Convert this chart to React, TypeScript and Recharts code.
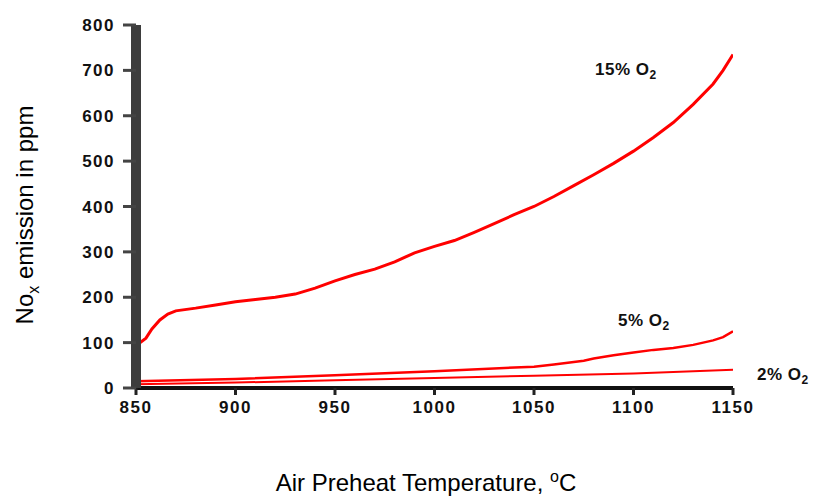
import { LineChart, Line, XAxis, YAxis } from 'recharts';

const xTicks = [850, 900, 950, 1000, 1050, 1100, 1150];
const yTicks = [0, 100, 200, 300, 400, 500, 600, 700, 800];

const o2_15 = [
    [850, 95], [852, 100], [855, 110], [858, 130], [862, 150], [866, 163], [870, 170],
    [880, 176], [890, 183], [900, 190], [910, 195], [920, 200], [930, 207], [940, 220],
    [950, 236], [960, 250], [970, 262], [980, 278], [990, 298], [1000, 312], [1010, 325],
    [1020, 343], [1030, 362], [1040, 382], [1050, 400], [1060, 422], [1070, 446],
    [1080, 470], [1090, 495], [1100, 522], [1110, 552], [1120, 585], [1130, 625],
    [1140, 670], [1145, 700], [1150, 735],
];
const o2_5 = [
    [850, 15], [900, 20], [950, 28], [1000, 37], [1050, 47], [1060, 52], [1075, 60],
    [1080, 65], [1090, 72], [1100, 78], [1110, 84], [1120, 88], [1130, 95], [1140, 105],
    [1145, 112], [1150, 125],
];
const o2_2 = [
    [850, 8], [900, 12], [950, 17], [1000, 22], [1050, 27], [1100, 32], [1150, 40],
];

const toPoints = (arr: number[][]) => arr.map(([t, v]) => ({ t, v }));

const FONT = '"Liberation Sans", Arial, sans-serif';
const tickStyle = { fill: '#111', fontSize: 17, fontWeight: 700, fontFamily: FONT, letterSpacing: 1.5 };

const labelStyle: React.CSSProperties = {
    position: 'absolute',
    fontFamily: FONT,
    fontWeight: 700,
    fontSize: 17,
    letterSpacing: 0.5,
    color: '#111',
    whiteSpace: 'nowrap',
};

export default function App() {
    return (
        <div style={{ position: 'absolute', left: 0, top: 0, width: 822, height: 498, background: '#fff' }}>
            <LineChart
                width={822}
                height={498}
                margin={{ top: 25, right: 89, bottom: 80, left: 76 }}
            >
                <XAxis
                    type="number"
                    dataKey="t"
                    domain={[850, 1150]}
                    ticks={xTicks}
                    allowDataOverflow
                    tick={tickStyle}
                    height={30}
                    axisLine={{ stroke: '#111', strokeWidth: 4 }}
                    tickLine={{ stroke: '#222', strokeWidth: 3 }}
                    tickSize={7}
                    tickMargin={6}
                />
                <YAxis
                    type="number"
                    domain={[0, 800]}
                    ticks={yTicks}
                    width={60}
                    tick={tickStyle}
                    axisLine={{ stroke: '#3d3d3d', strokeWidth: 10 }}
                    tickLine={{ stroke: '#444', strokeWidth: 3 }}
                    tickSize={13}
                    tickMargin={8}
                />
                <Line data={toPoints(o2_15)} dataKey="v" type="linear" stroke="#ff0000" strokeWidth={3} dot={false} isAnimationActive={false} />
                <Line data={toPoints(o2_5)} dataKey="v" type="linear" stroke="#ff0000" strokeWidth={2.5} dot={false} isAnimationActive={false} />
                <Line data={toPoints(o2_2)} dataKey="v" type="linear" stroke="#ff0000" strokeWidth={2} dot={false} isAnimationActive={false} />
            </LineChart>

            <div style={{ ...labelStyle, left: 595, top: 60 }}>15% O<sub style={{ fontSize: 12 }}>2</sub></div>
            <div style={{ ...labelStyle, left: 618, top: 311 }}>5% O<sub style={{ fontSize: 12 }}>2</sub></div>
            <div style={{ ...labelStyle, left: 757, top: 365 }}>2% O<sub style={{ fontSize: 12 }}>2</sub></div>

            <div
                style={{
                    position: 'absolute',
                    left: 27,
                    top: 215,
                    transform: 'translate(-50%, -50%) rotate(-90deg)',
                    fontFamily: FONT,
                    fontSize: 24,
                    color: '#000',
                    whiteSpace: 'nowrap',
                }}
            >
                No<sub style={{ fontSize: 16 }}>x</sub> emission in ppm
            </div>
            <div
                style={{
                    position: 'absolute',
                    left: 426,
                    top: 482,
                    transform: 'translate(-50%, -50%)',
                    fontFamily: FONT,
                    fontSize: 24,
                    color: '#000',
                    whiteSpace: 'nowrap',
                }}
            >
                Air Preheat Temperature, <sup style={{ fontSize: 16 }}>o</sup>C
            </div>
        </div>
    );
}
